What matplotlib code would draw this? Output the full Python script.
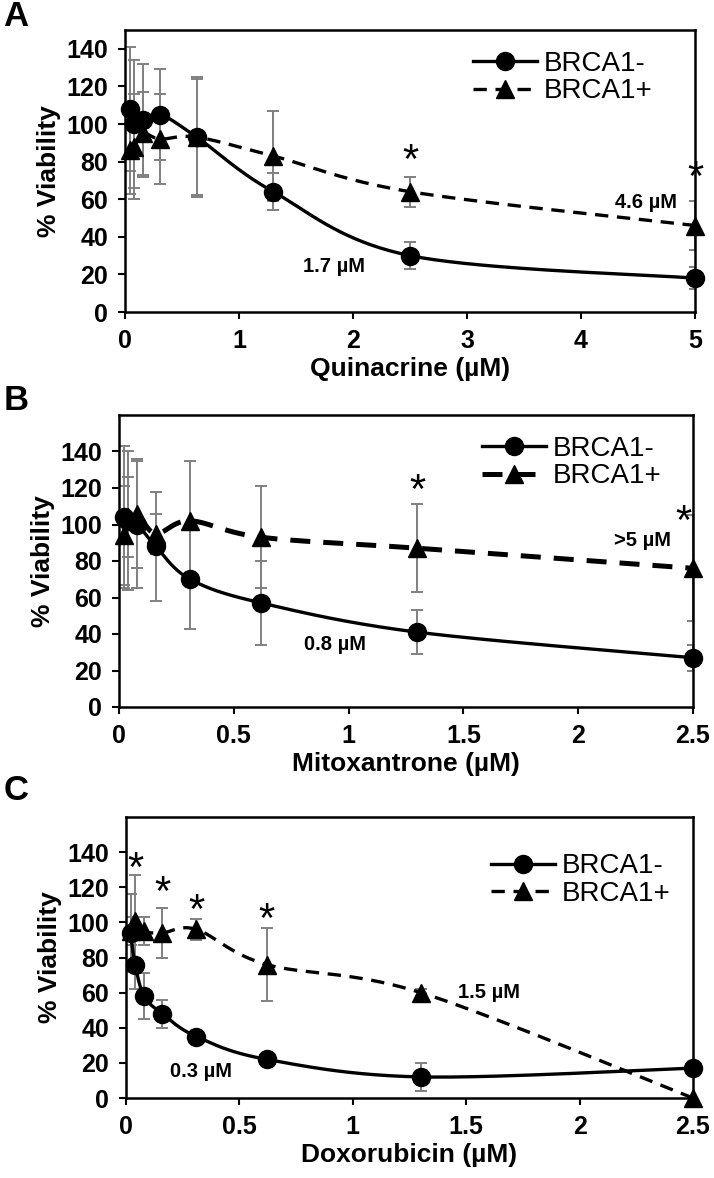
import numpy as np
import matplotlib
matplotlib.use("Agg")
import matplotlib.pyplot as plt

plt.rcParams['font.family'] = ['Liberation Sans', 'DejaVu Sans']

# ---- data ----
# A: Quinacrine
quin_x = [0.04, 0.08, 0.16, 0.31, 0.63, 1.3, 2.5, 5]
quin_neg = [108, 100, 102, 105, 93, 64, 30, 18]
quin_neg_err = [33, 34, 30, 24, 32, 10, 7, 6]
quin_pos = [86, 88, 95, 92, 93, 83, 64, 46]
quin_pos_err = [23, 28, 22, 24, 31, 24, 8, 13]
quin_stars_x = [2.5, 5.0]
quin_stars_y = [80, 71]

# B: Mitoxantrone
mito_x = [0.02, 0.04, 0.08, 0.16, 0.31, 0.62, 1.3, 2.5]
mito_neg = [104, 102, 100, 88, 70, 57, 41, 27]
mito_neg_err = [39, 38, 35, 30, 27, 23, 12, 7]
mito_pos = [94, 104, 106, 95, 102, 93, 87, 76]
mito_pos_err = [27, 22, 30, 11, 33, 28, 24, 29]
mito_stars_x = [1.3, 2.46]
mito_stars_y = [118, 101]

# C: Doxorubicin
doxo_x = [0.02, 0.04, 0.08, 0.16, 0.31, 0.62, 1.3, 2.5]
doxo_neg = [94, 76, 58, 48, 35, 22, 12, 17]
doxo_neg_err = [22, 14, 13, 8, 3, 3, 8, 0]
doxo_pos = [95, 101, 95, 94, 96, 76, 60, 0]
doxo_pos_err = [8, 26, 8, 14, 6, 21, 2, 0]
doxo_stars_x = [0.04, 0.16, 0.31, 0.62]
doxo_stars_y = [130, 116, 106, 101]

W, H = 714, 1178
fig = plt.figure(figsize=(W / 100, H / 100), dpi=100)


def px_axes(left, top, right, bottom):
    return fig.add_axes([left / W, 1 - bottom / H, (right - left) / W, (bottom - top) / H])


def smooth(x, y, sx, sy, n=40):
    # Excel style smoothed line: cubic bezier through the points (in screen units)
    p = np.column_stack([np.asarray(x, float) * sx, np.asarray(y, float) * sy])
    out = []
    for i in range(len(p) - 1):
        p0 = p[i - 1] if i > 0 else p[i]
        p3 = p[i + 2] if i + 2 < len(p) else p[i + 1]
        c1 = p[i] + (p[i + 1] - p0) / 6
        c2 = p[i + 1] - (p3 - p[i]) / 6
        t = np.linspace(0, 1, n)[:, None]
        seg = ((1 - t) ** 3) * p[i] + 3 * ((1 - t) ** 2) * t * c1 + 3 * (1 - t) * t ** 2 * c2 + t ** 3 * p[i + 1]
        out.append(seg)
    out = np.vstack(out)
    return out[:, 0] / sx, out[:, 1] / sy


def panel(rect, letter, letter_y, x, neg, neg_err, pos, pos_err, xmax, ymax, xticks, xticklabels,
          xlabel, dash_lw, dashes, stars_x, stars_y, ic_neg, ic_pos, leg_anchor):
    ax = px_axes(*rect)
    ax.set_xlim(0, xmax)
    ax.set_ylim(0, ymax)
    sx = (rect[2] - rect[0]) / xmax
    sy = (rect[3] - rect[1]) / ymax

    ax.errorbar(x, neg, yerr=neg_err, fmt='none', ecolor='#808080', elinewidth=1.4,
                capsize=4, capthick=1.4, zorder=2)
    ax.errorbar(x, pos, yerr=pos_err, fmt='none', ecolor='#808080', elinewidth=1.4,
                capsize=4, capthick=1.4, zorder=2)

    xs, ys = smooth(x, neg, sx, sy)
    ax.plot(xs, ys, color='black', lw=2.4, zorder=3)
    xs, ys = smooth(x, pos, sx, sy)
    ax.plot(xs, ys, color='black', lw=dash_lw, linestyle=(0, dashes), zorder=3)
    ax.plot(x, neg, 'o', color='black', ms=13, zorder=4, clip_on=False)
    ax.plot(x, pos, '^', color='black', ms=12.5, zorder=4, clip_on=False)

    # legend proxies
    h1, = ax.plot([], [], color='black', lw=2.4, marker='o', ms=13)
    h2, = ax.plot([], [], color='black', lw=dash_lw, linestyle=(0, dashes), marker='^', ms=12.5)
    ax.legend([h1, h2], ['BRCA1-', 'BRCA1+'], loc='upper right', bbox_to_anchor=leg_anchor,
              frameon=False, fontsize=20, handlelength=2.3, handletextpad=0.25,
              labelspacing=0.05, borderaxespad=0.2)

    for sxx, syy in zip(stars_x, stars_y):
        ax.text(sxx, syy, '*', ha='center', va='center', fontsize=30, zorder=5)
    for txt, tx, ty in (ic_neg, ic_pos):
        ax.text(tx, ty, txt, ha='center', va='center', fontsize=14.5,
                fontweight='bold', zorder=5)

    ax.set_yticks(range(0, 141, 20))
    ax.set_xticks(xticks)
    ax.set_xticklabels(xticklabels)
    ax.tick_params(axis='both', direction='out', length=5, width=1.5, labelsize=18, pad=7)
    for lab in ax.get_xticklabels() + ax.get_yticklabels():
        lab.set_fontweight('bold')
    for s in ax.spines.values():
        s.set_linewidth(1.8)
    ax.set_xlabel(xlabel, fontsize=19, fontweight='bold', labelpad=3)
    ax.set_ylabel('% Viability', fontsize=19, fontweight='bold', labelpad=4)
    fig.text(16 / W, 1 - letter_y / H, letter, fontsize=25, fontweight='bold', ha='center', va='center')
    return ax


panel((125, 30, 695, 312), 'A', 17, quin_x, quin_neg, quin_neg_err, quin_pos, quin_pos_err,
      5, 150, [0, 1, 2, 3, 4, 5], ['0', '1', '2', '3', '4', '5'], 'Quinacrine (µM)',
      2.4, (4, 2.6), quin_stars_x, quin_stars_y, ('1.7 µM', 1.83, 24), ('4.6 µM', 4.57, 58),
      (0.955, 0.985))

panel((119, 415, 693, 707), 'B', 401, mito_x, mito_neg, mito_neg_err, mito_pos, mito_pos_err,
      2.5, 160, [0, 0.5, 1, 1.5, 2, 2.5], ['0', '0.5', '1', '1.5', '2', '2.5'], 'Mitoxantrone (µM)',
      3.6, (4, 2.6), mito_stars_x, mito_stars_y, ('0.8 µM', 0.94, 34), ('>5 µM', 2.28, 91),
      (0.975, 0.985))

panel((126, 817, 693, 1098), 'C', 790, doxo_x, doxo_neg, doxo_neg_err, doxo_pos, doxo_pos_err,
      2.5, 160, [0, 0.5, 1, 1.5, 2, 2.5], ['0', '0.5', '1', '1.5', '2', '2.5'], 'Doxorubicin (µM)',
      2.4, (4, 2.6), doxo_stars_x, doxo_stars_y, ('0.3 µM', 0.33, 15), ('1.5 µM', 1.6, 60),
      (0.99, 0.93))

fig.savefig('out.png', dpi=100)
